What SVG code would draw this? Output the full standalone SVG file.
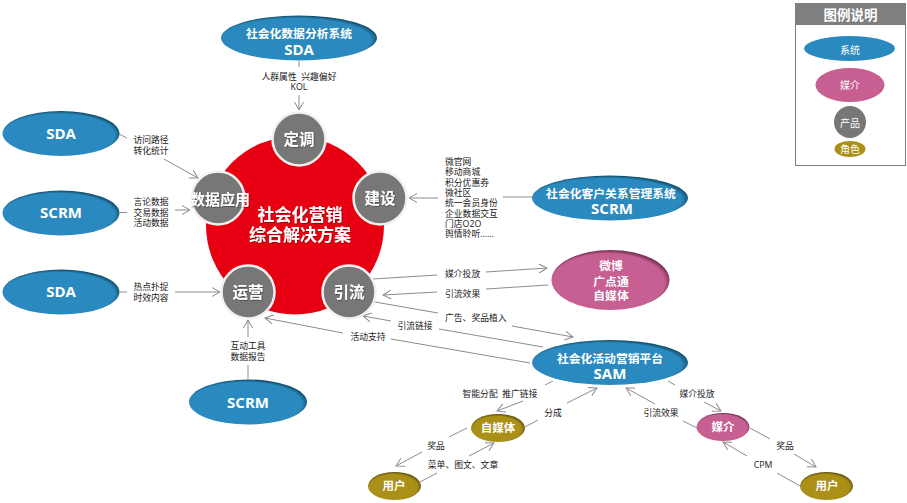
<svg xmlns="http://www.w3.org/2000/svg" width="907" height="503" viewBox="0 0 907 503">
<style>
text{font-family:"Open Sans","Noto Sans CJK SC",sans-serif;text-anchor:middle}
.l{font-size:8.800px;fill:#1a1a1a}
.ll{text-anchor:start}
.n{font-size:11.800px;font-weight:700;fill:#fff}
.b{font-size:15px;font-weight:700;fill:#fff}
.g{font-size:15.500px;font-weight:700;fill:#fff;filter:url(#ts)}
.h{font-size:17px;font-weight:700;fill:#fff;filter:url(#ts)}
.s{font-size:11.500px;font-weight:700;fill:#fff}
.k{font-size:10px;fill:#fff}
.c line{stroke:#8c8c8c;stroke-width:1;fill:none}
.a{marker-end:url(#ar)}
.ci{fill:#777;stroke:#f4f0ee;stroke-width:2.500}
</style>
<defs>
<filter id="ts" x="-20%" y="-30%" width="140%" height="160%"><feDropShadow dx="0.700" dy="0.700" stdDeviation="0.600" flood-color="#000" flood-opacity=".45"/></filter>
<marker id="ar" markerUnits="userSpaceOnUse" markerWidth="12" markerHeight="12" refX="9" refY="5" orient="auto"><path d="M1 0.500L9 5L1 9.500" fill="none" stroke="#8c8c8c" stroke-width="1"/></marker>
<radialGradient id="bl" cx=".48" cy=".54" r=".53"><stop offset=".9" stop-color="#2a8abf"/><stop offset="1" stop-color="#14516f"/></radialGradient>
<radialGradient id="pk" cx=".48" cy=".54" r=".53"><stop offset=".9" stop-color="#c75f92"/><stop offset="1" stop-color="#7a3358"/></radialGradient>
<radialGradient id="ol" cx=".48" cy=".54" r=".53"><stop offset=".85" stop-color="#ab9018"/><stop offset="1" stop-color="#655510"/></radialGradient>
</defs>
<circle id="hub-disc" cx="295" cy="225.500" r="89" fill="#e60012"/>
<g id="connectors" class="c">
<line x1="299" y1="61" x2="299" y2="67"/><line class="a" x1="299" y1="95" x2="299" y2="110"/>
<line x1="119" y1="134" x2="127" y2="138"/><line class="a" x1="164" y1="159" x2="198" y2="178"/>
<line x1="120" y1="212.500" x2="127" y2="212.500"/><line class="a" x1="175" y1="210" x2="190" y2="210"/>
<line x1="120" y1="292" x2="127" y2="292"/><line class="a" x1="175" y1="292" x2="220" y2="292"/>
<line x1="248" y1="379" x2="248" y2="365"/><line class="a" x1="248" y1="337" x2="248" y2="320"/>
<line x1="530" y1="363" x2="391" y2="339"/><line class="a" x1="343" y1="333" x2="265" y2="318"/>
<line x1="543" y1="347" x2="439" y2="329"/><line class="a" x1="391" y1="321" x2="363" y2="316"/>
<line x1="375" y1="302" x2="438" y2="313"/><line class="a" x1="512" y1="326" x2="573" y2="337"/>
<line x1="373" y1="279" x2="437" y2="275"/><line class="a" x1="486" y1="272" x2="547" y2="268"/>
<line x1="548" y1="285" x2="486" y2="289"/><line class="a" x1="437" y1="292" x2="383" y2="295"/>
<line x1="532" y1="197" x2="503" y2="197"/><line class="a" x1="438" y1="198" x2="409" y2="198"/>
<line x1="553" y1="381" x2="545" y2="385"/><line class="a" x1="523" y1="401" x2="497" y2="411"/>
<line x1="467" y1="428" x2="449" y2="437"/><line class="a" x1="422" y1="452" x2="396" y2="466"/>
<line x1="420" y1="482" x2="437" y2="473"/><line class="a" x1="469" y1="456" x2="494" y2="443"/>
<line x1="525" y1="427" x2="538" y2="420"/><line class="a" x1="567" y1="403" x2="597" y2="388"/>
<line x1="697" y1="428" x2="683" y2="421"/><line class="a" x1="655" y1="404" x2="626" y2="388"/>
<line x1="668" y1="381" x2="675" y2="385"/><line class="a" x1="704" y1="402" x2="721" y2="411"/>
<line x1="750" y1="428" x2="770" y2="439"/><line class="a" x1="794" y1="454" x2="816" y2="467"/>
<line x1="800" y1="486" x2="777" y2="473"/><line class="a" x1="747" y1="456" x2="723" y2="442"/>
</g>
<g id="labels">
<text class="l" x="299" y="80">人群属性&#160;&#160;兴趣偏好<tspan x="299" dy="10">KOL</tspan></text>
<text class="l" x="151" y="143">访问路径<tspan x="151" dy="10.500">转化统计</tspan></text>
<text class="l" x="151" y="205">言论数据<tspan x="151" dy="10.500">交易数据</tspan><tspan x="151" dy="10.500">活动数据</tspan></text>
<text class="l" x="151" y="290">热点扑捉<tspan x="151" dy="11">时效内容</tspan></text>
<text class="l" x="248" y="349">互动工具<tspan x="248" dy="11">数据报告</tspan></text>
<text class="l" x="368" y="340">活动支持</text>
<text class="l" x="415" y="329">引流链接</text>
<text class="l ll" x="445" y="165">微官网<tspan x="445" dy="10.300">移动商城</tspan><tspan x="445" dy="10.300">积分优惠券</tspan><tspan x="445" dy="10.300">微社区</tspan><tspan x="445" dy="10.300">统一会员身份</tspan><tspan x="445" dy="10.300">企业数据交互</tspan><tspan x="445" dy="10.300">门店O2O</tspan><tspan x="445" dy="10.300">舆情聆听……</tspan></text>
<text class="l ll" x="445" y="277">媒介投放</text>
<text class="l ll" x="445" y="297">引流效果</text>
<text class="l ll" x="445" y="321">广告、奖品植入</text>
<text class="l" x="500" y="397">智能分配&#160;&#160;推广链接</text>
<text class="l" x="553" y="416">分成</text>
<text class="l" x="436" y="449">奖品</text>
<text class="l" x="463" y="468">菜单、图文、文章</text>
<text class="l" x="697" y="397">媒介投放</text>
<text class="l" x="661" y="416">引流效果</text>
<text class="l" x="785" y="449">奖品</text>
<text class="l" x="763" y="468">CPM</text>
</g>
<g id="dingdiao"><circle class="ci" cx="299" cy="139" r="26.500"/><text class="g" x="299" y="145">定调</text></g>
<g id="jianshe"><circle class="ci" cx="380" cy="198" r="26.500"/><text class="g" x="380" y="204">建设</text></g>
<g id="yinliu"><circle class="ci" cx="349" cy="292" r="26.500"/><text class="g" x="349" y="298">引流</text></g>
<g id="yunying"><circle class="ci" cx="248" cy="292" r="26.500"/><text class="g" x="248" y="298">运营</text></g>
<g id="shujuyingyong"><circle class="ci" cx="218" cy="198" r="26.500"/><text class="g" x="220" y="205" style="font-size:15px">数据应用</text></g>
<g id="hub"><text class="h" x="300" y="221">社会化营销<tspan x="300" dy="20">综合解决方案</tspan></text></g>
<g id="sda-top"><ellipse cx="299" cy="38" rx="78" ry="22.500" fill="url(#bl)"/><text class="n" x="299" y="38">社会化数据分析系统<tspan class="b" x="299" dy="16.500">SDA</tspan></text></g>
<g id="sda-1"><ellipse cx="61" cy="133.500" rx="58.500" ry="22.500" fill="url(#bl)"/><text class="b" x="61" y="139">SDA</text></g>
<g id="scrm-1"><ellipse cx="61" cy="213" rx="58.500" ry="22.500" fill="url(#bl)"/><text class="b" x="61" y="218">SCRM</text></g>
<g id="sda-2"><ellipse cx="61" cy="292" rx="58.500" ry="22.500" fill="url(#bl)"/><text class="b" x="61" y="297">SDA</text></g>
<g id="scrm-2"><ellipse cx="248" cy="402" rx="59" ry="22.500" fill="url(#bl)"/><text class="b" x="248" y="408">SCRM</text></g>
<g id="scrm-top"><ellipse cx="610" cy="198" rx="78" ry="22.500" fill="url(#bl)"/><text class="n" x="611" y="198">社会化客户关系管理系统<tspan class="b" x="612" dy="16">SCRM</tspan></text></g>
<g id="media"><ellipse cx="610.500" cy="280" rx="59" ry="30" fill="url(#pk)"/><text class="n" x="611" y="270">微博<tspan x="611" dy="15.500">广点通</tspan><tspan x="611" dy="14.500">自媒体</tspan></text></g>
<g id="sam"><ellipse cx="610" cy="362.500" rx="78" ry="22.500" fill="url(#bl)"/><text class="n" x="610" y="363">社会化活动营销平台<tspan class="b" x="610" dy="16">SAM</tspan></text></g>
<g id="zimeiti"><ellipse cx="498" cy="428" rx="27" ry="14" fill="url(#ol)"/><text class="s" x="498" y="432">自媒体</text></g>
<g id="user-1"><ellipse cx="394.500" cy="486" rx="26.500" ry="14" fill="url(#ol)"/><text class="s" x="394" y="490">用户</text></g>
<g id="meijie"><ellipse cx="723" cy="427" rx="26.500" ry="14" fill="url(#pk)"/><text class="s" x="723" y="431">媒介</text></g>
<g id="user-2"><ellipse cx="826.500" cy="486" rx="26.500" ry="14" fill="url(#ol)"/><text class="s" x="827" y="490">用户</text></g>
<g id="legend">
<rect x="795.500" y="3.500" width="110" height="162" fill="#fff" stroke="#7f7f7f" stroke-width="1"/>
<rect x="795" y="3" width="111" height="22" fill="#7f7f7f"/>
<text x="850.500" y="19.500" font-size="13.500" font-weight="700" fill="#fff">图例说明</text>
<ellipse cx="849.500" cy="48.500" rx="45.500" ry="12.500" fill="#2a8abf"/><text class="k" x="850" y="54">系统</text>
<ellipse cx="850" cy="85" rx="34.500" ry="17" fill="#c75f92"/><text class="k" x="850" y="89">媒介</text>
<circle cx="850" cy="122" r="16" fill="#777"/><text class="k" x="850" y="127">产品</text>
<ellipse cx="850" cy="149" rx="15.500" ry="8" fill="#ab9018"/><text class="k" x="850" y="153">角色</text>
</g>
</svg>
